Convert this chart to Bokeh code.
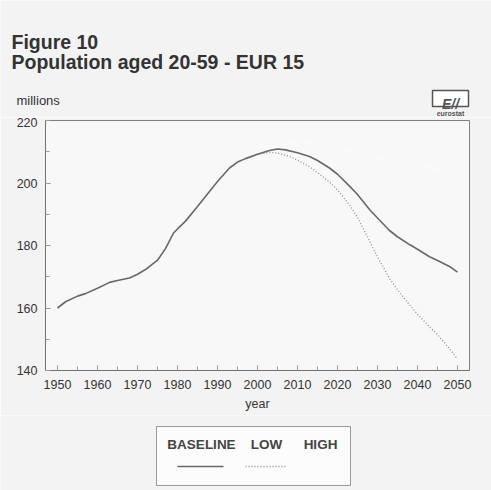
from bokeh.plotting import figure
from bokeh.models import Range1d, SingleIntervalTicker, ColumnDataSource
from bokeh.layouts import column, row
from bokeh.core.properties import value
from bokeh.embed import file_html
from bokeh.resources import INLINE

# ---- data ----
baseline_years = [1950, 1952, 1955, 1957, 1960, 1963, 1965, 1968, 1970, 1972, 1975, 1977,
                  1979, 1980, 1982, 1985, 1988, 1990, 1993, 1995, 1997, 2000, 2003, 2005,
                  2007, 2010, 2013, 2015, 2018, 2020, 2023, 2025, 2028, 2030, 2033, 2035,
                  2038, 2040, 2043, 2045, 2048, 2050]
baseline_values = [160.0, 162.0, 163.8, 164.6, 166.3, 168.2, 168.8, 169.6, 170.8, 172.3, 175.3,
                   179.0, 184.0, 185.3, 187.8, 192.5, 197.3, 200.5, 204.8, 206.7, 207.8, 209.2,
                   210.4, 210.9, 210.6, 209.7, 208.5, 207.2, 204.8, 202.8, 199.0, 196.3, 191.5,
                   188.8, 184.8, 182.8, 180.3, 178.8, 176.4, 175.2, 173.3, 171.5]

low_years = [2000, 2003, 2005, 2008, 2010, 2013, 2015, 2018, 2020, 2023, 2025, 2028, 2030,
             2033, 2035, 2038, 2040, 2043, 2045, 2048, 2050]
low_values = [209.2, 209.8, 209.6, 208.5, 207.3, 205.2, 203.3, 200.3, 197.8, 193.0, 189.0,
              181.5, 176.3, 169.5, 165.8, 161.0, 158.0, 154.0, 151.5, 147.0, 143.7]

high_years = [2000, 2005, 2010, 2015, 2020, 2025, 2030, 2035, 2040, 2045, 2050]
high_values = [209.5, 212.0, 213.0, 212.5, 211.0, 209.5, 208.0, 206.5, 205.5, 204.5, 203.5]

series_names = ["BASELINE", "LOW", "HIGH"]
title_line1 = "Figure 10"
title_line2 = "Population aged 20-59 - EUR 15"
y_unit = "millions"
x_label = "year"

FONT = "Liberation Sans"
BG = "#f3f3f3"
BASE_COL = "#686868"
LOW_COL = "#8f8f8f"

W = 491
H_TOP, H_MAIN, H_LEG = 117, 298, 75


def panel(h):
    f = figure(width=W, height=h, output_backend="svg", toolbar_location=None,
               x_range=Range1d(0, W), y_range=Range1d(h, 0),
               min_border=0, x_axis_type=None, y_axis_type=None)
    f.border_fill_color = BG
    f.background_fill_color = BG
    f.outline_line_color = None
    f.grid.visible = False
    return f


# ---- header panel: titles, unit, logo ----
top = panel(H_TOP)
top.text(x=[11], y=[41.5], text=[title_line1], text_font=value(FONT), text_font_style="bold",
         text_font_size="19.5px", text_color="#333333", text_baseline="alphabetic")
top.text(x=[11], y=[61.5], text=[title_line2], text_font=value(FONT), text_font_style="bold",
         text_font_size="19.5px", text_color="#333333", text_baseline="alphabetic")
top.text(x=[16], y=[100], text=[y_unit], text_font=value(FONT), text_font_size="13px",
         text_color="#333333", text_baseline="alphabetic")
# eurostat logo
top.quad(left=[432], right=[468], top=[90], bottom=[106], fill_color="#ffffff",
         line_color="#555555", line_width=1.5)
top.text(x=[450], y=[103.5], text=["E//"], text_font=value(FONT),
         text_font_style="bold italic", text_font_size="14px", text_color="#555555",
         text_align="center", text_baseline="alphabetic")
top.text(x=[450], y=[113], text=["eurostat"], text_font=value(FONT), text_font_style="bold",
         text_font_size="7px", text_color="#555555", text_align="center",
         text_baseline="alphabetic")

# ---- main chart ----
p = figure(width=W, height=H_MAIN, output_backend="svg", toolbar_location=None,
           x_range=Range1d(1947, 2053), y_range=Range1d(140, 220),
           min_border_left=45, min_border_right=22, min_border_top=3,
           min_border_bottom=45)
p.border_fill_color = BG
p.background_fill_color = "#f8f8f8"
p.outline_line_color = "#808080"
p.outline_line_width = 1
p.grid.visible = False

p.xaxis.ticker = SingleIntervalTicker(interval=10, num_minor_ticks=2)
p.yaxis.ticker = SingleIntervalTicker(interval=20, num_minor_ticks=2)
for ax in (p.xaxis, p.yaxis):
    ax.axis_line_color = "#707070"
    ax.major_tick_line_color = "#8a8a8a"
    ax.minor_tick_line_color = "#9a9a9a"
    ax.major_tick_in = 5
    ax.major_tick_out = 0
    ax.minor_tick_in = 4
    ax.minor_tick_out = 0
    ax.major_label_text_font = FONT
    ax.major_label_text_font_size = "12.5px"
    ax.major_label_text_color = "#333333"
p.yaxis.major_label_standoff = 8
p.xaxis.major_label_standoff = 9
p.xaxis.axis_label = x_label
p.xaxis.axis_label_text_font = FONT
p.xaxis.axis_label_text_font_style = "normal"
p.xaxis.axis_label_text_font_size = "12.5px"
p.xaxis.axis_label_text_color = "#333333"
p.xaxis.axis_label_standoff = 5

p.line(high_years, high_values, line_color="#ffffff", line_width=1.3, line_dash="1 2")
p.line(low_years, low_values, line_color=LOW_COL, line_width=1.3, line_dash="1 2")
p.line(baseline_years, baseline_values, line_color=BASE_COL, line_width=1.6)

# ---- legend panel ----
lg = panel(H_LEG)
lg.quad(left=[156], right=[350], top=[11], bottom=[70], fill_color="#fcfcfc",
        line_color="#9a9a9a", line_width=1)
label_x = [201, 266, 320]
src = ColumnDataSource(dict(x=label_x, y=[29, 29, 29], t=series_names))
lg.text(x="x", y="y", text="t", source=src, text_font=value(FONT), text_font_style="bold",
        text_font_size="13.5px", text_color="#444444", text_align="center",
        text_baseline="middle")
lg.line([177, 223], [51, 51], line_color=BASE_COL, line_width=1.6)
lg.line([245, 287], [51, 51], line_color=LOW_COL, line_width=1.3, line_dash="1 2")
lg.line([295, 333], [51, 51], line_color="#ffffff", line_width=1.3, line_dash="1 2")

layout = column(row(top), p, row(lg), spacing=0)
open("out.html", "w").write(file_html(layout, INLINE))
